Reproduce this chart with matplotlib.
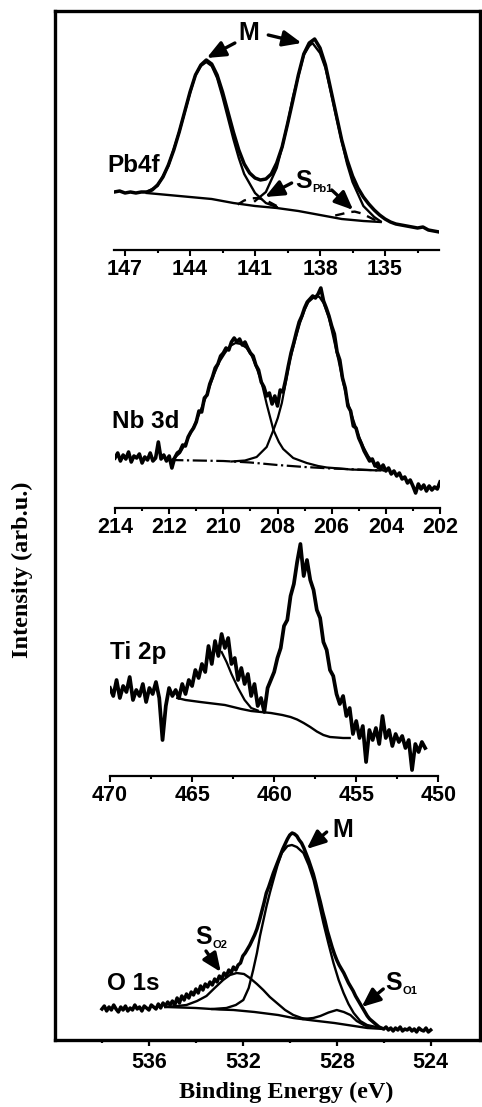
import numpy as np
import matplotlib.pyplot as plt
from matplotlib.ticker import MultipleLocator

plt.rcParams['font.family'] = ['Liberation Sans', 'DejaVu Sans']
plt.rcParams['font.weight'] = 'bold'

# ---- Pb 4f (intensity in arb. units) ----
pb_e = np.arange(147.5, 132.49, -0.25)
pb_raw = [58, 59, 57, 58, 57, 58, 58, 60, 65, 73,
          85, 100, 118, 138, 158, 175, 185, 190, 186, 175,
          158, 138, 118, 100, 86, 77, 72, 70, 71, 76,
          87, 103, 126, 150, 175, 196, 207, 211, 202, 185,
          160, 135, 110, 90, 74, 62, 53, 46, 40, 35,
          31, 28, 26, 25, 24, 23, 22, 23, 20, 19,
          18]
pb_bg_e = [146.0, 145.0, 144.0, 143.0, 142.0, 141.0, 140.0, 139.0, 138.0, 137.0, 136.0, 135.2]
pb_bg = [57, 55, 53, 51, 47, 44, 42, 39, 35, 31, 29, 28]
pb_a_e = [146.0, 145.5, 145.0, 144.75, 144.5, 144.0, 143.75, 143.5, 143.25, 143.0, 142.75,
          142.5, 142.25, 142.0, 141.75, 141.5, 141.0, 140.5, 140.0]
pb_a = [58, 64, 84, 101, 118, 157, 175, 184, 188, 184, 172, 153, 132, 111, 92, 76, 57, 47, 43]
pb_b_e = [141.0, 140.5, 140.0, 139.75, 139.5, 139.25, 139.0, 138.75, 138.5, 138.35, 138.0,
          137.75, 137.5, 137.25, 137.0, 136.75, 136.5, 136.0, 135.5, 135.2]
pb_b = [49, 58, 82, 103, 126, 153, 174, 195, 204, 207, 197, 182, 158, 133, 109, 86, 68, 44, 33, 28.5]
pb_s1_e = [141.8, 141.5, 141.2, 140.9, 140.6, 140.3, 140.0]
pb_s1 = [45.5, 49.5, 51.5, 52, 50.5, 47.5, 44]
pb_s2_e = [137.3, 137.0, 136.7, 136.4, 136.1, 135.8, 135.5, 135.2]
pb_s2 = [34.5, 36, 37.7, 38.4, 36.7, 33.6, 30.4, 28.8]

# ---- Nb 3d ----
nb_e = np.linspace(214, 202, 121)
nb_raw = [50, 55, 47, 53, 49, 56, 46, 52, 50, 54,
          45, 51, 48, 55, 47, 50, 66, 49, 53, 47,
          52, 40, 50, 55, 57, 63, 62, 71, 76, 80,
          86, 97, 96, 110, 113, 124, 131, 140, 144, 152,
          155, 160, 158, 166, 170, 166, 169, 163, 166, 160,
          155, 152, 143, 138, 126, 121, 112, 115, 104, 112,
          102, 118, 116, 128, 142, 155, 165, 176, 186, 192,
          200, 206, 209, 212, 210, 214, 220, 207, 200, 192,
          182, 174, 156, 148, 130, 120, 102, 97, 82, 80,
          70, 64, 57, 52, 47, 49, 42, 45, 39, 43,
          37, 40, 34, 37, 32, 35, 29, 31, 25, 28,
          22, 15, 24, 19, 23, 17, 22, 18, 21, 19, 26]
nb_bg_e = [212.0, 211.0, 210.0, 209.0, 208.0, 207.0, 206.0, 205.0, 204.2]
nb_bg = [48, 47.5, 47, 45.5, 43, 41, 39.5, 38.5, 37.5]
nb_l_e = [211.9, 211.6, 211.35, 211.1, 210.86, 210.6, 210.37, 210.15, 209.94, 209.75, 209.55,
          209.35, 209.14, 208.95, 208.77, 208.6, 208.4, 208.15, 207.95, 207.79, 207.42,
          206.92, 206.5, 206.18, 205.7, 205.3, 204.2]
nb_l = [48, 55, 67, 81, 96, 114, 132, 146, 155, 162, 165, 164, 160, 152, 140, 127, 104, 78,
        66, 59, 50, 45, 42, 40.5, 39.5, 38.5, 37.5]
nb_r_e = [209.7, 209.2, 208.77, 208.4, 208.15, 207.99, 207.84, 207.7, 207.54, 207.35, 207.17,
          207.0, 206.86, 206.6, 206.45, 206.3, 206.1, 205.94, 205.75, 205.57, 205.4, 205.2,
          205.0, 204.83, 204.65, 204.46, 204.3, 204.1]
nb_r = [46.5, 47.5, 51, 61, 78, 90, 105, 125, 148, 168, 185, 198, 206, 212, 211, 205, 190,
        171, 148, 125, 105, 88, 72, 61, 52, 45, 40, 37.5]

# ---- Ti 2p ----
ti_e = np.linspace(470, 450.8, 97)
ti_raw = [88, 80, 96, 78, 90, 84, 99, 76, 86, 80,
          92, 74, 88, 82, 94, 78, 36, 70, 88, 80,
          86, 78, 92, 82, 96, 90, 106, 98, 112, 104,
          130, 112, 135, 120, 142, 128, 138, 112, 118, 96,
          108, 92, 102, 80, 92, 70, 78, 64, 88, 96,
          104, 118, 128, 150, 156, 180, 192, 214, 232, 200,
          216, 196, 186, 166, 158, 134, 126, 106, 100, 82,
          72, 80, 60, 68, 42, 55, 38, 50, 14, 46,
          36, 48, 32, 60, 38, 46, 30, 42, 34, 40,
          28, 36, 6, 32, 24, 34, 28]
ti_bg_e = [465.9, 465.4, 464.5, 463.5, 463.0, 462.0, 461.4, 460.2, 459.5, 459.0, 458.6, 458.2,
           457.8, 457.4, 457.0, 456.6, 455.8, 455.4]
ti_bg = [78, 76, 74, 72, 71, 67, 65, 63, 61, 59, 56.5, 53, 49, 44.5, 41, 39, 38, 38]
ti_fit_e = [463.2, 462.9, 462.6, 462.2, 461.8, 461.4, 461.0]
ti_fit = [124, 114, 102, 88, 76, 68, 65.5]

# ---- O 1s ----
o_e = np.linspace(538, 524, 141)
o_raw = [31, 34, 29, 33, 30, 35, 31, 28, 33, 30,
         34, 29, 32, 30, 35, 31, 33, 29, 34, 32,
         30, 35, 33, 31, 36, 32, 37, 34, 38, 35,
         39, 35, 42, 37, 44, 40, 46, 42, 48, 45,
         51, 47, 54, 50, 56, 53, 58, 55, 61, 58,
         64, 61, 67, 64, 70, 67, 73, 70, 75, 77,
         84, 87, 91, 95, 100, 105, 111, 119, 128, 137,
         147, 153, 160, 167, 173, 179, 185, 191, 196, 201,
         205, 207, 206, 204, 200, 197, 192, 186, 180, 173,
         166, 157, 147, 138, 128, 119, 109, 101, 93, 86,
         80, 75, 71, 67, 62, 57, 53, 49, 44, 40,
         36, 32, 28, 24, 21, 19, 17, 15, 13, 12,
         11, 13, 10, 12, 9, 12, 10, 13, 9, 11,
         10, 12, 9, 11, 8, 12, 10, 9, 12, 8, 10]
o_bg_e = [535.3, 534.0, 533.0, 532.4, 531.5, 530.5, 529.85, 529.0, 528.1, 527.4, 526.7, 526.0]
o_bg = [33, 32, 30.5, 30, 28, 25, 22, 19.5, 17, 14.5, 12, 11]
o_m_e = [533.3, 532.7, 532.3, 531.98, 531.75, 531.56, 531.4, 531.27, 531.13, 530.99, 530.84,
         530.7, 530.52, 530.34, 530.1, 529.91, 529.7, 529.42, 529.2, 528.99, 528.78, 528.57,
         528.35, 528.14, 527.92, 527.71, 527.5, 527.28, 527.0, 526.71, 526.14]
o_m = [31, 32, 35, 40, 52, 70, 87, 104, 119, 134, 148, 160, 175, 187, 194, 195, 193, 187, 175,
       160, 139, 117, 96, 77, 60, 47, 36, 27, 19, 15, 12]
o_s2_e = [535.3, 534.8, 534.4, 533.95, 533.55, 533.2, 532.84, 532.55, 532.26, 531.95, 531.7,
          531.4, 531.13, 530.85, 530.55, 530.2, 529.85, 529.5, 529.27]
o_s2 = [33, 34, 35, 39, 44, 52, 60, 65, 67, 66, 62, 56, 50, 43, 37, 30, 25, 22, 21]
o_s1_e = [529.42, 529.0, 528.7, 528.35, 528.0, 527.7, 527.42, 527.15, 526.85, 526.6]
o_s1 = [21, 22, 24, 27.5, 30, 28, 25, 19, 15, 12.5]

W, H = 482, 1107
fig = plt.figure(figsize=(4.82, 11.07), dpi=100)


def box(l, r, top, bot):
    return [l / W, 1 - bot / H, (r - l) / W, (bot - top) / H]


def arrow(ax, tail, head):
    ax.annotate('', xy=head, xytext=tail,
                arrowprops=dict(arrowstyle='-|>,head_length=0.7,head_width=0.3',
                                lw=2.4, color='k', shrinkA=0, shrinkB=0, mutation_scale=16))


def label_s(ax, x, y, sub):
    ax.text(x, y, 'S', fontsize=18, ha='left', va='center')
    ax.annotate(sub, xy=(x, y), xytext=(12.5, -6), textcoords='offset points',
                fontsize=8, ha='left', va='center')


# outer frame, also carries O 1s
ax4 = fig.add_axes(box(55, 480, 11, 1040))
ax4.set_xlim(540, 521.9)
ax4.set_ylim(0, 1029)
for s in ax4.spines.values():
    s.set_linewidth(2.4)
ax4.set_yticks([])
ax4.set_xticks([536, 532, 528, 524])
ax4.set_xticks([538, 534, 530, 526], minor=True)
ax4.tick_params(axis='x', which='major', direction='out', length=4.5, width=1.6,
                labelsize=15.5, pad=4)
ax4.tick_params(axis='x', which='minor', direction='out', length=2.5, width=1.6)

# small panels with bottom axis only
ax1 = fig.add_axes(box(114.2, 439.2, 15, 250))
ax1.set_xlim(147.5, 132.5)
ax1.set_ylim(0, 235)
ax1.xaxis.set_major_locator(MultipleLocator(3))
ax1.xaxis.set_minor_locator(MultipleLocator(1.5))

ax2 = fig.add_axes(box(115, 440, 268, 508))
ax2.set_xlim(214, 202)
ax2.set_ylim(0, 240)
ax2.xaxis.set_major_locator(MultipleLocator(2))
ax2.xaxis.set_minor_locator(MultipleLocator(1))

ax3 = fig.add_axes(box(110, 438.3, 530, 776))
ax3.set_xlim(470, 450)
ax3.set_ylim(0, 246)
ax3.xaxis.set_major_locator(MultipleLocator(5))
ax3.xaxis.set_minor_locator(MultipleLocator(2.5))

for ax in (ax1, ax2, ax3):
    ax.patch.set_visible(False)
    for side in ('top', 'left', 'right'):
        ax.spines[side].set_visible(False)
    ax.spines['bottom'].set_linewidth(1.6)
    ax.set_yticks([])
    ax.tick_params(axis='x', which='major', direction='out', length=4.3, width=1.5,
                   labelsize=15.5, pad=2)
    ax.tick_params(axis='x', which='minor', direction='out', length=2.2, width=1.5)

# Pb4f
ax1.plot(pb_e, pb_raw, color='k', lw=2.5)
ax1.plot(pb_bg_e, pb_bg, color='k', lw=1.7)
ax1.plot(pb_a_e, pb_a, color='k', lw=1.7)
ax1.plot(pb_b_e, pb_b, color='k', lw=1.7)
ax1.plot(pb_s1_e, pb_s1, color='k', lw=1.7, ls=(0, (4, 3)))
ax1.plot(pb_s2_e, pb_s2, color='k', lw=1.7, ls=(0, (4, 3)))
ax1.text(147.83, 85, 'Pb4f', fontsize=17.5, ha='left', va='center')
ax1.text(141.28, 217.5, 'M', fontsize=18, ha='center', va='center')
arrow(ax1, (141.93, 207), (143.23, 192))
arrow(ax1, (140.39, 215), (138.85, 207))
label_s(ax1, 139.16, 69, 'Pb1')
arrow(ax1, (139.31, 67), (140.54, 53))
arrow(ax1, (137.46, 60), (136.47, 40))

# Nb 3d
ax2.plot(nb_e, nb_raw, color='k', lw=2.6)
ax2.plot(nb_bg_e, nb_bg, color='k', lw=1.6, ls='-.')
ax2.plot(nb_l_e, nb_l, color='k', lw=1.6)
ax2.plot(nb_r_e, nb_r, color='k', lw=1.6)
ax2.text(214.1, 86, 'Nb 3d', fontsize=17.5, ha='left', va='center')

# Ti 2p
ax3.plot(ti_e, ti_raw, color='k', lw=2.7)
ax3.plot(ti_fit_e, ti_fit, color='k', lw=1.6)
ax3.plot(ti_bg_e, ti_bg, color='k', lw=1.7)
ax3.text(470, 123, 'Ti 2p', fontsize=17.5, ha='left', va='center')

# O 1s
ax4.plot(o_e, o_raw, color='k', lw=2.5)
ax4.plot(o_bg_e, o_bg, color='k', lw=1.7)
ax4.plot(o_m_e, o_m, color='k', lw=1.7)
ax4.plot(o_s2_e, o_s2, color='k', lw=1.7)
ax4.plot(o_s1_e, o_s1, color='k', lw=1.7)
ax4.text(537.79, 57, 'O 1s', fontsize=17.5, ha='left', va='center')
ax4.text(527.73, 210, 'M', fontsize=18, ha='center', va='center')
arrow(ax4, (528.43, 208), (529.28, 191))
label_s(ax4, 534.04, 103, 'O2')
arrow(ax4, (533.57, 89), (532.94, 68))
label_s(ax4, 525.95, 57, 'O1')
arrow(ax4, (526.02, 51), (526.94, 33))

fig.text(22 / W, 1 - 570 / H, 'Intensity (arb.u.)', rotation=90, ha='center', va='center',
         family=['Liberation Serif', 'DejaVu Serif'], fontsize=17.5, fontweight='bold')
fig.text(286 / W, 1 - 1092 / H, 'Binding Energy (eV)', ha='center', va='center',
         family=['Liberation Serif', 'DejaVu Serif'], fontsize=17.5, fontweight='bold')

fig.savefig('out.png', dpi=100)
